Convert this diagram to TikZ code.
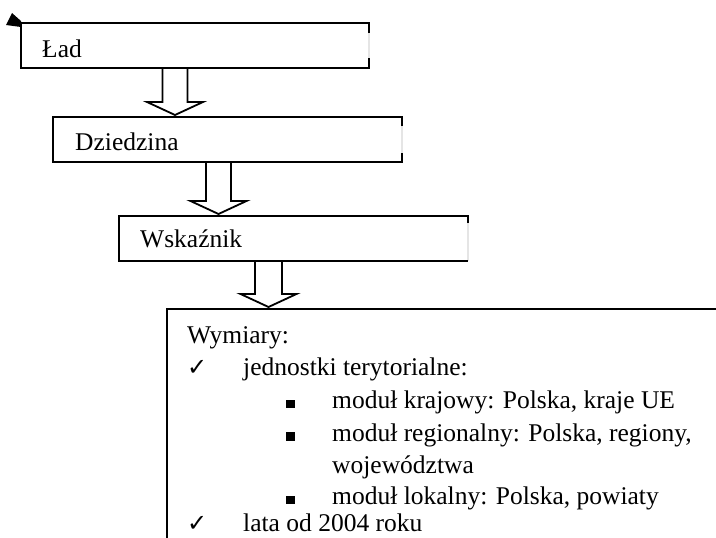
\documentclass[tikz,border=0pt]{standalone}
\usepackage{fontspec}
\setmainfont{Liberation Serif}
\newfontfamily\symfont{DejaVu Sans}
\usetikzlibrary{calc}
\newcommand\boxedges[3]{%
  \draw[faint] (#1.north east) -- (#1.south east);
  \draw[edge] ([yshift=-#2]#1.north east) -- (#1.north east) -- (#1.north west)
     -- (#1.south west) -- (#1.south east) -- ([yshift=#3]#1.south east);
}
\newcommand\blockarr[4]{%
  \draw[blk] let \p1=(#1.south), \p2=([yshift=2pt]#2.north) in
    ({(#3-#4)*1pt},\y1) -- ({(#3-#4)*1pt},{\y2+13pt}) -- ({(#3-28)*1pt},{\y2+13pt})
    -- ({#3*1pt},\y2) -- ({(#3+28)*1pt},{\y2+13pt}) -- ({(#3+#4)*1pt},{\y2+13pt})
    -- ({(#3+#4)*1pt},\y1);
}
\begin{document}
\begin{tikzpicture}[x=1pt,y=-1pt,
  frame/.style={draw=none, inner sep=0pt, outer sep=0pt, anchor=north west},
  edge/.style={line width=1.8pt},
  faint/.style={line width=1.2pt, draw=black!10},
  lbl/.style={anchor=base west, inner sep=0pt, font=\fontsize{25.5}{32.5}\selectfont},
  chk/.style={anchor=base west, inner sep=0pt, font=\symfont\fontsize{24}{26}\selectfont},
  blk/.style={draw, line width=1.8pt, line join=miter}
]
\useasboundingbox (0,0) rectangle (716,538);
\clip (0,0) rectangle (716,538);

% boxes
\node[frame, minimum width=348pt, minimum height=45pt] (lad) at (21,23) {};
\node[frame, minimum width=349pt, minimum height=45pt] (dz) at (53,117) {};
\node[frame, minimum width=349pt, minimum height=45pt] (wsk) at (119,216) {};
\node[frame, draw, line width=1.8pt, minimum width=580pt, minimum height=260pt] (dims) at (167,309) {};

% block arrows
\blockarr{lad}{dz}{175}{12.5}
\blockarr{dz}{wsk}{218.5}{12.5}
\blockarr{wsk}{dims}{268.5}{13.5}

\boxedges{lad}{10pt}{10pt}
\boxedges{dz}{9pt}{9pt}
\boxedges{wsk}{7pt}{0pt}

% small marker at top-left corner
\fill (12,13) -- (6,25) -- (21,27) -- (21,21) -- cycle;

% texts
\node[lbl] (tlad) at (42,57) {Ład};
\node[lbl] (tdz) at (75,150.5) {Dziedzina};
\node[lbl] (twsk) at (140,247.5) {Wskaźnik};

\node[lbl] (w0) at (187,343) {Wymiary:};
\node[chk] (c1) at (187,375.5) {✓};
\node[lbl] (w1) at (243,375.5) {jednostki terytorialne:};
\node[lbl] (b1) at (286,408.5) {\rule[0.5pt]{8.5pt}{8.5pt}};
\node[lbl] (w2) at (332,408.5) {moduł krajowy: Polska, kraje UE};
\node[lbl] (b2) at (286,441) {\rule[0.5pt]{8.5pt}{8.5pt}};
\node[lbl] (w3) at (332,441) {moduł regionalny: Polska, regiony,};
\node[lbl] (w4) at (332,473) {województwa};
\node[lbl] (b3) at (286,504.5) {\rule[0.5pt]{8.5pt}{8.5pt}};
\node[lbl] (w5) at (332,504.5) {moduł lokalny: Polska, powiaty};
\node[chk] (c2) at (187,531.5) {✓};
\node[lbl] (w6) at (243,531.5) {lata od 2004 roku};
\end{tikzpicture}
\end{document}
